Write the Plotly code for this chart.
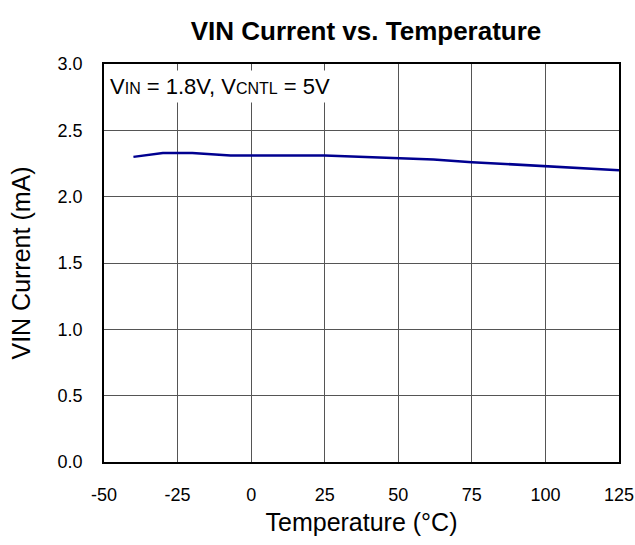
import plotly.graph_objects as go

temperature = [-40, -30, -20, -7, 25, 62, 75, 100, 125]
vin_current = [2.30, 2.33, 2.33, 2.31, 2.31, 2.28, 2.26, 2.23, 2.20]
x_ticks = [-50, -25, 0, 25, 50, 75, 100, 125]
y_ticks = [0.0, 0.5, 1.0, 1.5, 2.0, 2.5, 3.0]

fig = go.Figure()
fig.add_trace(go.Scatter(x=temperature, y=vin_current, mode="lines",
                         line=dict(color="#000090", width=2.5), showlegend=False))

fig.update_layout(
    width=635, height=545,
    margin=dict(l=104, r=16, t=64, b=83),
    paper_bgcolor="white", plot_bgcolor="white",
    font=dict(family="Arial, Liberation Sans, sans-serif", color="black", size=18),
    title=dict(text="<b>VIN Current vs. Temperature</b>", x=366/635, xanchor="center",
               y=1 - 31/545, yanchor="middle", font=dict(size=26)),
    xaxis=dict(range=[-50, 125], tickvals=x_ticks, ticktext=[str(v) for v in x_ticks],
               showgrid=True, gridcolor="#555555", gridwidth=1.3,
               showline=True, linecolor="black", linewidth=1.5, mirror=True,
               ticks="", zeroline=False, automargin=False, ticklabelstandoff=16,
               title=dict(text="Temperature (°C)", font=dict(size=25), standoff=9)),
    yaxis=dict(range=[0, 3.0], tickvals=y_ticks, ticktext=[f"{v:.1f}" for v in y_ticks],
               showgrid=True, gridcolor="#555555", gridwidth=1.3,
               showline=True, linecolor="black", linewidth=1.5, mirror=True,
               ticks="", zeroline=False, automargin=False, ticklabelstandoff=16,
               title=dict(text="VIN Current (mA)", font=dict(size=25), standoff=20)),
)

fig.add_annotation(
    xref="paper", yref="paper", x=0.0, y=0.985, xanchor="left", yanchor="top",
    text="V<span style='font-size:16px'>IN</span> = 1.8V, V<span style='font-size:16px'>CNTL</span> = 5V",
    showarrow=False, bgcolor="white", font=dict(size=22), borderpad=3, xshift=2,
)

fig.write_html("out.html", config={"displayModeBar": False},
               post_script="document.body.style.margin='0';")
